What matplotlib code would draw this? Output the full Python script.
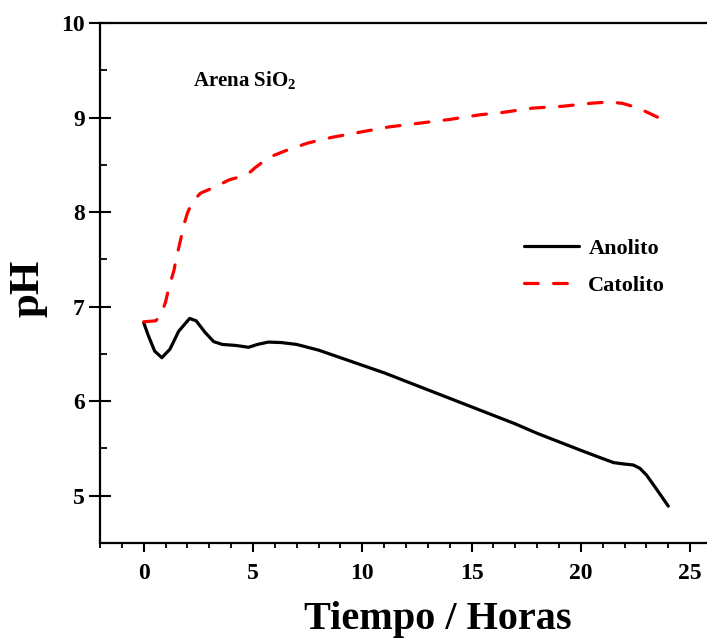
import matplotlib
matplotlib.use("Agg")
import matplotlib.pyplot as plt
from matplotlib.ticker import MultipleLocator

plt.rcParams['font.family'] = ['Liberation Serif', 'DejaVu Serif']
plt.rcParams['mathtext.fontset'] = 'custom'
plt.rcParams['mathtext.rm'] = 'Liberation Serif'
plt.rcParams['mathtext.default'] = 'regular'

# pH del anolito (línea negra)
t_anolito = [0, 0.2, 0.5, 0.83, 1.2, 1.6, 2.1, 2.4, 2.8, 3.2, 3.6, 4.2, 4.8, 5.2, 5.7,
             6.3, 7.0, 8.0, 9.0, 10, 11, 12, 13, 14, 15, 16, 17, 18, 19, 20,
             20.8, 21.5, 22.0, 22.4, 22.7, 23.0, 23.4, 23.7, 24.0]
ph_anolito = [6.83, 6.7, 6.53, 6.46, 6.55, 6.74, 6.875, 6.85, 6.73, 6.63, 6.6, 6.59, 6.57, 6.6, 6.625,
              6.62, 6.6, 6.54, 6.46, 6.38, 6.3, 6.21, 6.12, 6.03, 5.94, 5.85, 5.76, 5.66, 5.57, 5.48,
              5.41, 5.35, 5.335, 5.325, 5.29, 5.22, 5.09, 4.99, 4.89]

# pH del catolito (línea roja discontinua)
t_catolito = [0, 0.55, 0.8, 1.0, 1.15, 1.38, 1.5, 1.7, 1.83, 2.0, 2.15, 2.35, 2.6, 3.0, 3.3, 3.9, 4.5, 4.8,
              5.1, 5.5, 5.96, 6.5, 7.5, 8.6, 10, 11.2, 12.6, 14, 15.4, 16.3, 17.8,
              19.2, 20.4, 21.3, 21.9, 22.5, 23.0, 24.0]
ph_catolito = [6.84, 6.85, 6.92, 7.05, 7.2, 7.38, 7.52, 7.72, 7.86, 7.99, 8.07, 8.14, 8.2, 8.24, 8.27, 8.34, 8.38, 8.41,
               8.47, 8.54, 8.6, 8.65, 8.73, 8.79, 8.85, 8.9, 8.94, 8.98, 9.03, 9.05, 9.1,
               9.12, 9.15, 9.165, 9.15, 9.11, 9.06, 8.95]

fig = plt.figure(figsize=(7.07, 6.43), dpi=100)
ax = fig.add_axes([100/707, 100/643, 612/707, 520/643])

ax.plot(t_anolito, ph_anolito, color='black', lw=2.3, label='Anolito',
        solid_capstyle='round', solid_joinstyle='round')
ax.plot(t_catolito, ph_catolito, color='red', lw=2.3, dashes=(4.3, 4.8),
        dash_capstyle='round', label='Catolito')

ax.set_xlim(-2, 26)
ax.set_ylim(4.5, 10)
ax.xaxis.set_major_locator(MultipleLocator(5))
ax.xaxis.set_minor_locator(MultipleLocator(1))
ax.yaxis.set_major_locator(MultipleLocator(1))
ax.yaxis.set_minor_locator(MultipleLocator(0.5))

for s in ax.spines.values():
    s.set_linewidth(1.6)

ax.tick_params(axis='x', which='major', direction='out', length=6.5, width=1.5,
               labelsize=17, pad=8)
ax.tick_params(axis='x', which='minor', direction='out', length=3.6, width=1.3)
ax.tick_params(axis='y', which='major', direction='inout', length=16, width=1.5,
               labelsize=17, pad=3)
ax.tick_params(axis='y', which='minor', direction='in', length=5, width=1.3)
for lab in ax.get_xticklabels() + ax.get_yticklabels():
    lab.set_fontweight('bold')

ax.set_xlabel('Tiempo / Horas', fontsize=29, fontweight='bold')
ax.xaxis.set_label_coords(0.552, -0.112)
ax.set_ylabel('pH', fontsize=31, fontweight='bold')
ax.yaxis.set_label_coords(-0.085, 0.49)

ax.text(0.152, 0.89, 'Arena SiO$_2$', transform=ax.transAxes, fontsize=15,
        fontweight='bold', va='center')

ax.legend(loc='upper left', bbox_to_anchor=(0.66, 0.625), frameon=False,
          handlelength=2.5, handletextpad=0.4, labelspacing=0.75,
          prop={'weight': 'bold', 'size': 16})

fig.savefig('out.png', dpi=100)
